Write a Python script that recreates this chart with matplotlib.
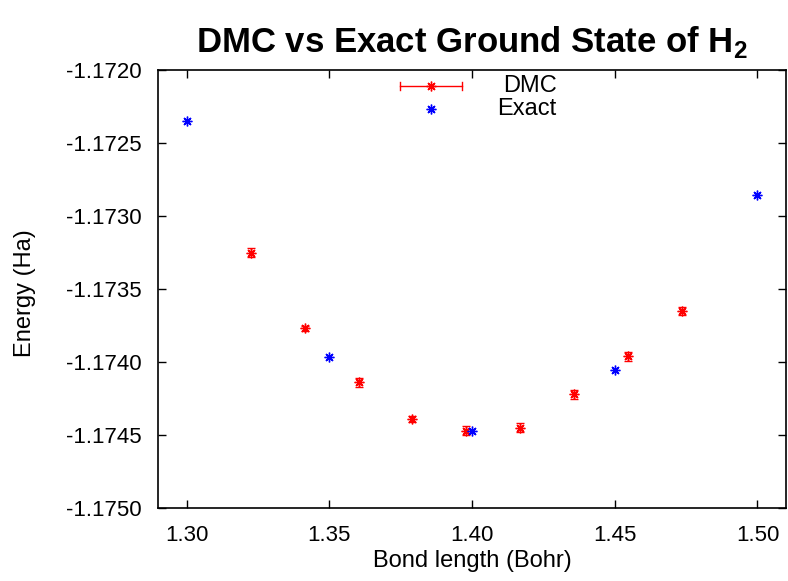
import matplotlib
matplotlib.use("Agg")
import matplotlib.pyplot as plt

# H2 ground state energy vs bond length
exact_r = [1.30, 1.35, 1.40, 1.45, 1.50]
exact_e = [-1.172347, -1.173964, -1.174475, -1.174053, -1.172854]

dmc_r = [1.3227, 1.3416, 1.3604, 1.3791, 1.3979, 1.4168, 1.4357, 1.4546, 1.4735]
dmc_e = [-1.17325, -1.17377, -1.17414, -1.17439, -1.17447, -1.17445, -1.17422, -1.17396, -1.17365]
dmc_err = [0.00003, 0.00002, 0.00003, 0.00002, 0.00003, 0.00003, 0.00003, 0.00003, 0.00003]

x_ticks = [1.30, 1.35, 1.40, 1.45, 1.50]
y_ticks = [-1.1750, -1.1745, -1.1740, -1.1735, -1.1730, -1.1725, -1.1720]

plt.rcParams['font.family'] = ['Liberation Sans', 'DejaVu Sans']
plt.rcParams['mathtext.fontset'] = 'custom'
plt.rcParams['mathtext.bf'] = 'Liberation Sans:bold'
plt.rcParams['mathtext.rm'] = 'Liberation Sans'

star = (8, 2, 0)

fig = plt.figure(figsize=(7.88, 5.81), dpi=100)
ax = fig.add_axes([0.2005, 0.1256, 0.7970, 0.7539])

ax.errorbar(dmc_r, dmc_e, yerr=dmc_err, fmt='none', ecolor='red',
            elinewidth=1, capsize=3, capthick=1)
ax.plot(dmc_r, dmc_e, linestyle='none', marker=star, color='red',
        markersize=7, markeredgewidth=1)
ax.plot(exact_r, exact_e, linestyle='none', marker=star, color='blue',
        markersize=7, markeredgewidth=1)

ax.set_xlim(1.29, 1.51)
ax.set_ylim(-1.1750, -1.1720)
ax.set_xticks(x_ticks)
ax.set_xticklabels(["%.2f" % v for v in x_ticks])
ax.set_yticks(y_ticks)
ax.set_yticklabels(["%.4f" % v for v in y_ticks])
ax.tick_params(direction='in', length=6, width=1, top=True, right=True,
               labelsize=16)
ax.tick_params(axis='x', pad=12)
ax.tick_params(axis='y', pad=12)
for s in ax.spines.values():
    s.set_linewidth(1.2)

ax.set_xlabel("Bond length (Bohr)", fontsize=17)
ax.xaxis.set_label_coords(0.5, -0.095)
ax.set_ylabel("Energy (Ha)", fontsize=17)
ax.yaxis.set_label_coords(-0.194, 0.49)
ax.set_title(r"DMC vs Exact Ground State of H$_\mathbf{2}$",
             fontsize=25, fontweight='bold', pad=13)

# key drawn gnuplot-style: sample on the left, label on the right
tr = ax.transAxes
ax.plot([0.385, 0.484], [0.963, 0.963], color='red', lw=1, transform=tr)
for xe in (0.385, 0.484):
    ax.plot([xe, xe], [0.963 - 0.009, 0.963 + 0.009], color='red', lw=1, transform=tr)
ax.plot([0.435], [0.963], marker=star, color='red', markersize=7,
        markeredgewidth=1, transform=tr)
ax.plot([0.435], [0.911], marker=star, color='blue', markersize=7,
        markeredgewidth=1, transform=tr)
ax.text(0.635, 0.963, "DMC", ha='right', va='center', fontsize=17, transform=tr)
ax.text(0.635, 0.911, "Exact", ha='right', va='center', fontsize=17, transform=tr)

fig.savefig("out.png", dpi=100)
